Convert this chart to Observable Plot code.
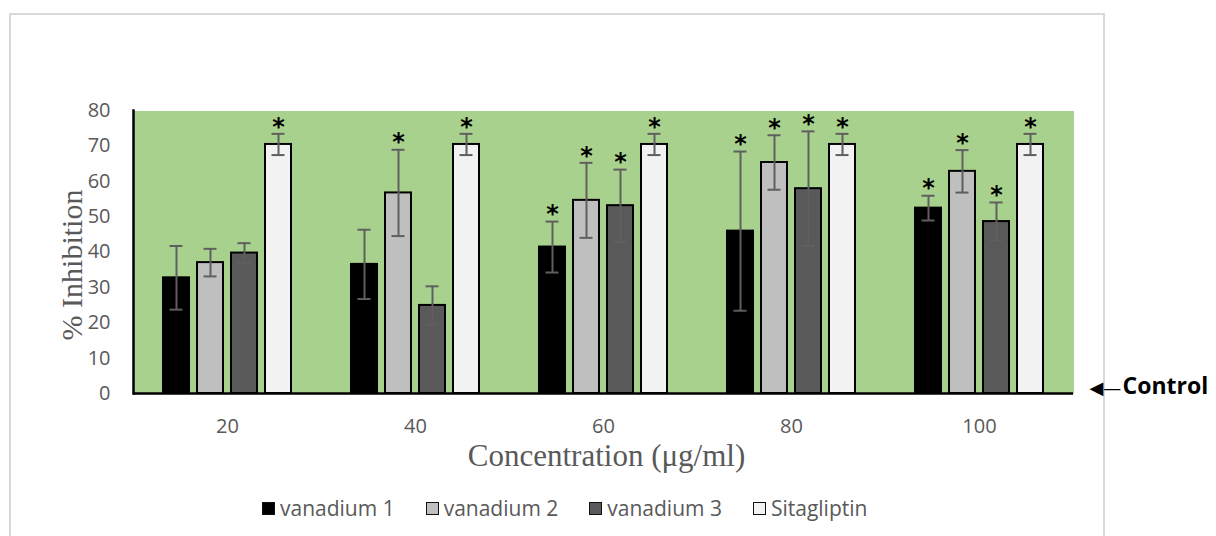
<!DOCTYPE html>
<html>
<head>
<meta charset="utf-8">
<script src="https://cdn.jsdelivr.net/npm/d3@7"></script>
<script src="https://cdn.jsdelivr.net/npm/@observablehq/plot@0.6"></script>
<style>
  body { margin: 0; background: #ffffff; width: 1216px; height: 536px; overflow: hidden; position: relative; }
  #border { position: absolute; left: 9px; top: 13px; width: 1096px; height: 600px; border: 2px solid #d9d9d9; box-sizing: border-box; }
  #chart { position: absolute; left: 0; top: 0; }
  #legend { position: absolute; left: 262px; top: 494px; display: flex; align-items: center; gap: 31px;
            font-family: "Open Sans", sans-serif; font-size: 21px; color: #595959; }
  #legend .item { display: flex; align-items: center; gap: 5px; }
  #legend .sw { width: 13px; height: 13px; box-sizing: border-box; border: 1.5px solid #111; }
</style>
</head>
<body>
<div id="border"></div>
<div id="chart"></div>
<div id="legend"></div>
<script>
// Concentrations (µg/ml) and the four tested compounds
const concentrations = ["20", "40", "60", "80", "100"];
const series = ["vanadium 1", "vanadium 2", "vanadium 3", "Sitagliptin"];
const seriesColors = ["#000000", "#bfbfbf", "#595959", "#f2f2f2"];

// Mean % inhibition and error (±) at each concentration
const vanadium1 = [32.7, 36.5, 41.4, 45.9, 52.4];
const vanadium1Err = [9.0, 9.8, 7.2, 22.5, 3.5];
const vanadium2 = [37.0, 56.7, 54.6, 65.3, 62.8];
const vanadium2Err = [3.9, 12.2, 10.6, 7.7, 6.0];
const vanadium3 = [39.7, 24.9, 53.1, 57.9, 48.6];
const vanadium3Err = [2.8, 5.4, 10.2, 16.2, 5.4];
const sitagliptin = [70.4, 70.4, 70.4, 70.4, 70.4];
const sitagliptinErr = [3.0, 3.0, 3.0, 3.0, 3.0];

// Statistical significance vs. control (asterisks)
const vanadium1Sig = [false, false, true, true, true];
const vanadium2Sig = [false, true, true, true, true];
const vanadium3Sig = [false, false, true, true, true];
const sitagliptinSig = [true, true, true, true, true];

const yTicks = [0, 10, 20, 30, 40, 50, 60, 70, 80];

const values = [vanadium1, vanadium2, vanadium3, sitagliptin];
const errors = [vanadium1Err, vanadium2Err, vanadium3Err, sitagliptinErr];
const sigs = [vanadium1Sig, vanadium2Sig, vanadium3Sig, sitagliptinSig];

const rows = [];
concentrations.forEach((c, i) => {
  series.forEach((s, j) => {
    rows.push({conc: c, series: s, value: values[j][i], err: errors[j][i], sig: sigs[j][i]});
  });
});

const errColor = "#5f5f5f";
const grey = "#595959";

const chart = Plot.plot({
  width: 1216,
  height: 490,
  marginLeft: 133,
  marginRight: 143,
  marginTop: 110,
  marginBottom: 97,
  style: {background: "transparent", overflow: "visible"},
  fx: {domain: concentrations, padding: 0, label: null},
  x: {domain: series, paddingInner: 0.235, paddingOuter: 0.882, axis: null},
  y: {domain: [0, 80]},
  color: {domain: series, range: seriesColors},
  marks: [
    // green plot area
    Plot.frame({fill: "#a9d18e", shapeRendering: "crispEdges"}),
    // bars
    Plot.barY(rows, {fx: "conc", x: "series", y: "value", fill: "series", stroke: "#000", strokeWidth: 2}),
    // error bars
    Plot.ruleX(rows, {fx: "conc", x: "series", y1: d => d.value - d.err, y2: d => d.value + d.err, stroke: errColor, strokeWidth: 2}),
    Plot.tickY(rows, {fx: "conc", x: "series", y: d => d.value + d.err, stroke: errColor, strokeWidth: 2, insetLeft: 6.5, insetRight: 6.5}),
    Plot.tickY(rows, {fx: "conc", x: "series", y: d => d.value - d.err, stroke: errColor, strokeWidth: 2, insetLeft: 6.5, insetRight: 6.5}),
    // significance asterisks
    Plot.text(rows.filter(d => d.sig), {fx: "conc", x: "series", y: d => d.value + d.err, text: () => "*",
      dy: -7, fontSize: 24, fontWeight: "bold", fontFamily: "DejaVu Sans", fill: "#000"}),
    // axis lines
    Plot.ruleY([0], {stroke: "#000", strokeWidth: 2.5}),
    Plot.frame({anchor: "left", facetAnchor: "left", stroke: "#000", strokeWidth: 2.5}),
    // axes
    Plot.axisY(yTicks, {tickSize: 0, tickPadding: 23, fontSize: 20, fontFamily: "Open Sans", color: grey, label: null}),
    Plot.axisFx({anchor: "bottom", tickSize: 0, tickPadding: 25, fontSize: 20, fontFamily: "Open Sans", color: grey, label: null}),
    // axis titles
    Plot.text(["% Inhibition"], {frameAnchor: "left", facetAnchor: "left", textAnchor: "middle", rotate: -90, dx: -61, dy: 13,
      fontSize: 30, fontFamily: "Liberation Serif", fill: grey}),
    Plot.text(["Concentration (μg/ml)"], {frameAnchor: "bottom", facet: "super", dx: 3, dy: 72,
      fontSize: 31, fontFamily: "Liberation Serif", fill: grey}),
    // control baseline annotation
    Plot.text(["◀—"], {frameAnchor: "bottom-right", facet: "super", dx: 16, textAnchor: "start",
      fontSize: 18, fontFamily: "DejaVu Sans", fill: "#000"}),
    Plot.text(["Control"], {frameAnchor: "bottom-right", facet: "super", dx: 49, textAnchor: "start",
      fontSize: 23, fontWeight: "bold", fontFamily: "Open Sans", fill: "#000"})
  ]
});
document.getElementById("chart").appendChild(chart);

// legend
const legend = document.getElementById("legend");
series.forEach((s, j) => {
  const item = document.createElement("div");
  item.className = "item";
  const sw = document.createElement("div");
  sw.className = "sw";
  sw.style.background = seriesColors[j];
  const label = document.createElement("span");
  label.textContent = s;
  item.appendChild(sw);
  item.appendChild(label);
  legend.appendChild(item);
});
</script>
</body>
</html>
